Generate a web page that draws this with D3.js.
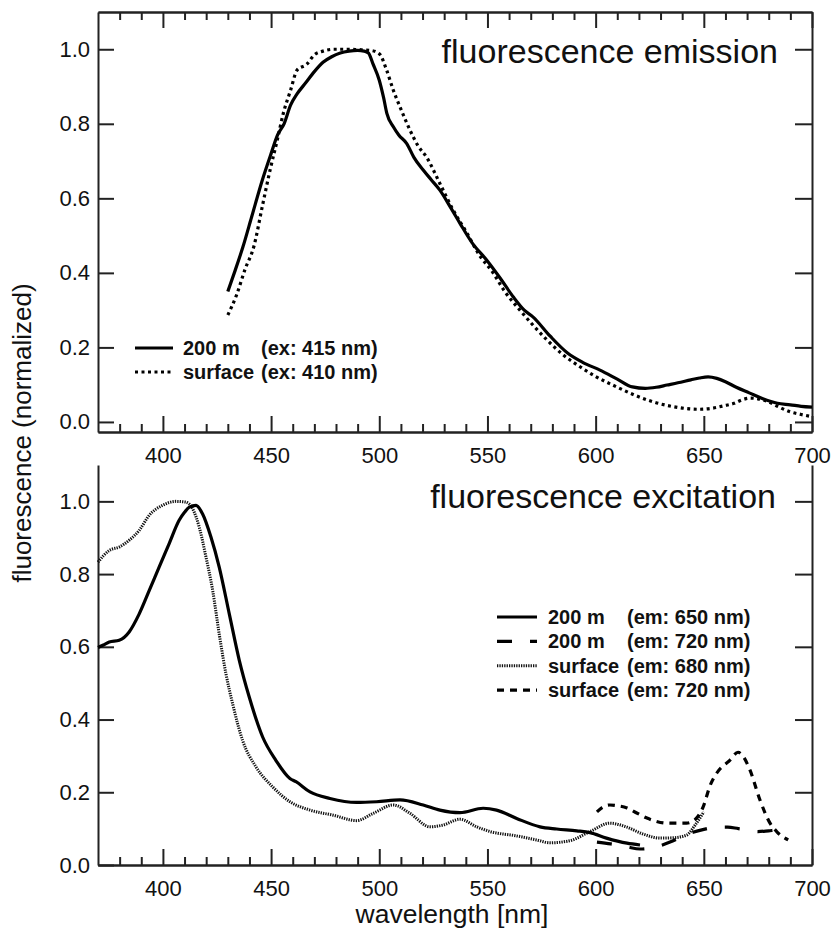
<!DOCTYPE html>
<html>
<head>
<meta charset="utf-8">
<script src="https://cdn.jsdelivr.net/npm/d3@7"></script>
<style>
  body { margin: 0; background: #fff; }
  svg text { font-family: "Liberation Sans", Arial, sans-serif; fill: #111; }
</style>
</head>
<body>
<svg id="chart" width="834" height="936"></svg>
<script>
// ---- data: [wavelength nm, normalized fluorescence] ----
var emDeep = [[430,0.35],[433,0.40],[437,0.47],[441,0.55],[446,0.65],[450,0.72],[453,0.77],[456,0.80],[459,0.85],[462,0.88],[466,0.91],[470,0.94],[474,0.965],[478,0.98],[482,0.99],[486,0.995],[490,0.997],[493,0.995],[495,0.99],[497,0.962],[500,0.917],[502,0.87],[503.5,0.828],[506.5,0.792],[509,0.77],[512.7,0.747],[516,0.71],[520.3,0.676],[524,0.65],[528,0.622],[533,0.575],[537.3,0.533],[543,0.48],[549.7,0.434],[556,0.385],[562,0.335],[567,0.30],[571,0.282],[579,0.23],[587,0.185],[594,0.16],[602,0.139],[610,0.115],[617,0.094],[623,0.09],[628,0.093],[633,0.099],[638,0.105],[644,0.113],[648,0.118],[652,0.121],[656,0.117],[660,0.108],[665,0.093],[671,0.078],[677,0.063],[684,0.05],[690,0.046],[695,0.042],[700,0.04]];

var emSurface = [[430,0.287],[434,0.34],[438,0.41],[442,0.47],[446,0.58],[449.5,0.675],[453,0.76],[455.6,0.827],[459,0.89],[462,0.944],[466.5,0.96],[470,0.985],[474,0.995],[479,1.0],[485,1.0],[490,0.999],[496,0.997],[500,0.988],[503.4,0.944],[506.5,0.89],[509.6,0.845],[514.2,0.783],[518,0.74],[521.8,0.711],[528,0.64],[534,0.57],[540.5,0.507],[546,0.45],[552.6,0.4],[558,0.35],[565,0.3],[571,0.26],[577.5,0.22],[585,0.18],[592.8,0.148],[600,0.122],[609.7,0.094],[618,0.072],[626.5,0.054],[635,0.042],[643.6,0.035],[648,0.034],[654,0.037],[659,0.043],[664,0.05],[668,0.06],[671.4,0.064],[675,0.062],[679,0.056],[684,0.042],[690,0.027],[695,0.02],[700,0.014]];

var exDeep650 = [[370,0.598],[372.5,0.605],[375.2,0.613],[379.8,0.618],[384.4,0.641],[389,0.69],[393.7,0.755],[398.3,0.82],[402.9,0.884],[407.5,0.948],[410,0.97],[412.2,0.984],[415.3,0.989],[418.3,0.966],[422.2,0.902],[426,0.82],[430.7,0.69],[435.3,0.563],[439.9,0.462],[446.1,0.352],[452.2,0.288],[458.7,0.238],[461.5,0.229],[468,0.201],[477.2,0.183],[489.5,0.172],[498.8,0.174],[509.6,0.179],[520.3,0.165],[528,0.151],[537.3,0.144],[548,0.156],[554.2,0.151],[563.5,0.128],[574.3,0.105],[582,0.099],[591.3,0.094],[597.4,0.089],[605,0.074],[614.5,0.06],[620.5,0.055]];

var exDeep720 = [[600.6,0.063],[607,0.058],[614.5,0.05],[620.5,0.044],[628,0.05],[634.4,0.063],[640,0.078],[645,0.09],[650,0.098],[656,0.104],[661,0.104],[666,0.1],[671,0.096],[675,0.092],[680,0.094],[684,0.096],[688.5,0.09]];

var exSurface680 = [[370,0.833],[375.2,0.865],[380,0.875],[384.4,0.893],[389,0.92],[393.7,0.962],[399.8,0.989],[406,1.0],[410.6,0.998],[413.7,0.98],[416.8,0.929],[419.9,0.847],[423,0.755],[426,0.636],[429.1,0.527],[432.2,0.444],[436.8,0.343],[443,0.27],[450.7,0.215],[458.7,0.174],[468,0.151],[478.7,0.137],[489.5,0.122],[497.2,0.142],[506.5,0.165],[514.2,0.142],[523.4,0.105],[529.6,0.11],[537.3,0.126],[545,0.105],[551.2,0.092],[563.5,0.08],[572.7,0.069],[578.9,0.061],[588.2,0.067],[597.4,0.092],[606.6,0.115],[614.5,0.104],[622,0.085],[629.8,0.074],[636,0.075],[642,0.082],[646,0.11],[650,0.146]];

var exSurface720 = [[600.6,0.146],[603,0.158],[606.6,0.165],[610,0.163],[614.5,0.157],[619,0.143],[623.7,0.129],[628,0.12],[633,0.115],[638,0.115],[642,0.115],[646,0.125],[649.7,0.16],[653,0.22],[656,0.253],[662,0.288],[665.8,0.31],[668,0.3],[671.4,0.26],[676,0.178],[680.6,0.115],[684,0.09],[689,0.069]];

var xMajorTicks = [400, 450, 500, 550, 600, 650, 700];
var yTicks = [0, 0.2, 0.4, 0.6, 0.8, 1.0];

var topLegend = [
  { name: "200 m", cond: "(ex: 415 nm)", key: "solid" },
  { name: "surface", cond: "(ex: 410 nm)", key: "dots" }
];
var bottomLegend = [
  { name: "200 m", cond: "(em: 650 nm)", key: "solid" },
  { name: "200 m", cond: "(em: 720 nm)", key: "longdash" },
  { name: "surface", cond: "(em: 680 nm)", key: "fine" },
  { name: "surface", cond: "(em: 720 nm)", key: "shortdash" }
];

// line styles
var styles = {
  solid:     { dash: null,      width: 3.2, color: "#000" },
  dots:      { dash: "3,3.5",   width: 3.2, color: "#000" },
  longdash:  { dash: "15,18",   width: 3.2, color: "#000" },
  fine:      { dash: "1.3,1.1", width: 3,   color: "#111" },
  shortdash: { dash: "7,6",     width: 3.2, color: "#000" }
};

var svg = d3.select("#chart");
var left = 98, right = 812;

var x = d3.scaleLinear().domain([370, 700]).range([left, right]);
var yTop = d3.scaleLinear().domain([-0.027, 1.1]).range([432, 12]);
var yBot = d3.scaleLinear().domain([0, 1.1]).range([865, 465]);

var minorTicks = d3.range(380, 700, 10).filter(function(v) { return v % 50 !== 0; });
var fmt = d3.format(".1f");

function styleAxis(g, labels) {
  g.selectAll("path, line").attr("stroke", "#222").attr("stroke-width", 2);
  if (!labels) { g.selectAll("text").remove(); return; }
  g.selectAll("text").attr("font-size", "22px")
    .attr("font-family", "Liberation Sans, Arial, sans-serif").attr("fill", "#111");
}

function xAxes(axisFn, yPos, labels) {
  var major = svg.append("g").attr("transform", "translate(0," + yPos + ")")
    .call(axisFn(x).tickValues(xMajorTicks).tickSize(-16).tickSizeOuter(0).tickPadding(15).tickFormat(d3.format("d")));
  styleAxis(major, labels);
  var minor = svg.append("g").attr("transform", "translate(0," + yPos + ")")
    .call(axisFn(x).tickValues(minorTicks).tickSize(-8).tickSizeOuter(0).tickFormat(""));
  styleAxis(minor, false);
}

function yAxes(y, values, labels, rightSide) {
  var g = svg.append("g")
    .attr("transform", "translate(" + (rightSide ? right : left) + ",0)")
    .call((rightSide ? d3.axisRight(y) : d3.axisLeft(y))
      .tickValues(values).tickSize(rightSide ? -17 : -16).tickSizeOuter(0).tickPadding(8).tickFormat(fmt));
  styleAxis(g, labels);
}

// ---- top panel: fluorescence emission ----
xAxes(d3.axisBottom, 432, true);
xAxes(d3.axisTop, 12, false);
yAxes(yTop, yTicks, true, false);
yAxes(yTop, yTicks, false, true);

// ---- bottom panel: fluorescence excitation ----
xAxes(d3.axisBottom, 865, true);
yAxes(yBot, yTicks, true, false);
yAxes(yBot, yTicks.slice(1), false, true);

function drawLine(data, y, key) {
  var s = styles[key];
  var line = d3.line()
    .x(function(d) { return x(d[0]); })
    .y(function(d) { return y(d[1]); })
    .curve(d3.curveMonotoneX);
  svg.append("path")
    .datum(data)
    .attr("d", line)
    .attr("fill", "none")
    .attr("stroke", s.color)
    .attr("stroke-width", s.width)
    .attr("stroke-dasharray", s.dash)
    .attr("stroke-linejoin", "round");
}

drawLine(emSurface, yTop, "dots");
drawLine(emDeep, yTop, "solid");

drawLine(exSurface680, yBot, "fine");
drawLine(exDeep650, yBot, "solid");
drawLine(exDeep720, yBot, "longdash");
drawLine(exSurface720, yBot, "shortdash");

// titles
svg.append("text").attr("x", 778).attr("y", 63).attr("text-anchor", "end")
  .attr("font-size", "34px").text("fluorescence emission");
svg.append("text").attr("x", 776).attr("y", 508).attr("text-anchor", "end")
  .attr("font-size", "34px").text("fluorescence excitation");

// legends
function legend(items, x0, x1, xName, xCond, y0, step) {
  items.forEach(function(d, i) {
    var s = styles[d.key];
    var yy = y0 + i * step;
    svg.append("line")
      .attr("x1", x0).attr("x2", x1).attr("y1", yy).attr("y2", yy)
      .attr("stroke", s.color).attr("stroke-width", s.width)
      .attr("stroke-dasharray", s.dash);
    svg.append("text").attr("x", xName).attr("y", yy + 7)
      .attr("font-size", "20px").attr("font-weight", "bold").text(d.name);
    svg.append("text").attr("x", xCond).attr("y", yy + 7)
      .attr("font-size", "20px").attr("font-weight", "bold").text(d.cond);
  });
}
legend(topLegend, 135, 173, 183, 261, 348, 24);
legend(bottomLegend, 497, 537, 548, 627, 617, 24.4);

// axis titles
svg.append("text").attr("x", 452).attr("y", 923).attr("text-anchor", "middle")
  .attr("font-size", "26.5px").text("wavelength [nm]");
svg.append("text").attr("transform", "translate(31,433) rotate(-90)")
  .attr("text-anchor", "middle").attr("font-size", "26px").text("fluorescence (normalized)");
</script>
</body>
</html>
